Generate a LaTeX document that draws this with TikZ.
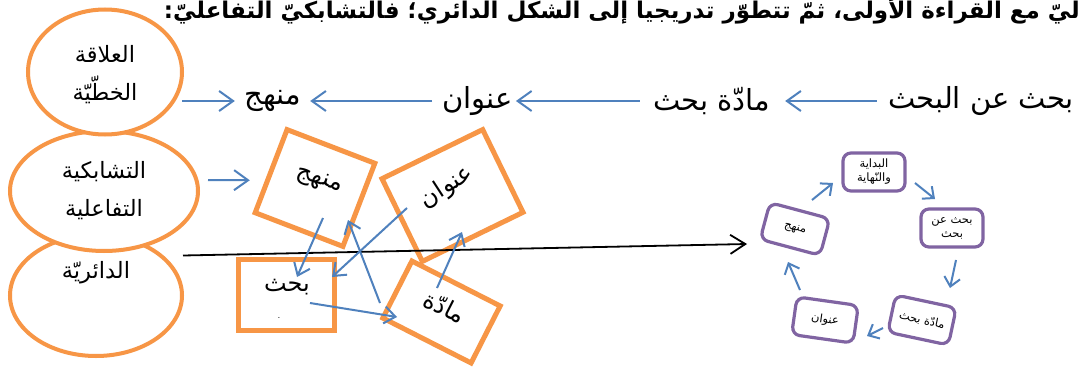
\documentclass[tikz,border=0pt]{standalone}
\usepackage{fontspec}
\usetikzlibrary{arrows.meta,shapes.geometric,calc}
\newfontfamily\arabicfont[Script=Arabic]{DejaVu Sans}
\TeXXeTstate=1
\newcommand{\ar}[1]{{\arabicfont\beginR #1\endR}}
\definecolor{orng}{HTML}{F79646}
\definecolor{blu}{HTML}{4F81BD}
\definecolor{purp}{HTML}{8064A2}
\tikzset{
  ell/.style={ellipse, draw=orng, line width=4pt, fill=white, inner sep=0pt, align=center,
    font=\fontsize{22.5}{38}\selectfont},
  obox/.style={rectangle, draw=orng, line width=5pt, inner sep=0pt},
  pbox/.style={rectangle, rounded corners=8pt, draw=purp, line width=3.2pt, fill=white,
    inner sep=0pt, minimum width=62pt, minimum height=38pt, align=center,
    font=\fontsize{11.5}{14}\selectfont},
  toplbl/.style={inner sep=0pt, font=\fontsize{29}{33}\selectfont},
  boxlbl/.style={inner sep=0pt, font=\fontsize{24}{28}\selectfont},
  elllbl/.style={inner sep=0pt, font=\fontsize{22.5}{26}\selectfont},
  barrow/.style={draw=blu, line width=2pt, -{Straight Barb[length=14pt,width=20pt]}},
  marrow/.style={draw=blu, line width=2pt, -{Straight Barb[length=11pt,width=17pt]}},
  sarrow/.style={draw=blu, line width=2pt, -{Straight Barb[length=9pt,width=16pt]}},
  karrow/.style={draw=black, line width=1.8pt, -{Straight Barb[length=15pt,width=19pt]}},
}
\begin{document}
\begin{tikzpicture}[x=1pt,y=-1pt]
\useasboundingbox (0,0) rectangle (1078,369);
\fill[white] (0,0) rectangle (1078,369);
\begin{scope}
\clip (0,0) rectangle (1078,369);
\node[anchor=base east, inner sep=0pt, font=\bfseries\fontsize{23}{27}\selectfont] (head) at (1080,19)
  {\ar{ليّ مع القراءة الأولى، ثمّ تتطوّر تدريجيا إلى الشكل الدائري؛ فالتشابكيّ التفاعليّ:}};
\end{scope}

% ellipses
\node[ell, minimum width=172pt, minimum height=121pt] (e3) at (96,295.5) {};
\node[ell, minimum width=188pt, minimum height=120pt] (e2) at (104,191) {\ar{التشابكية}\\\ar{التفاعلية}};
\node[ell, minimum width=154pt, minimum height=125pt] (e1) at (105,72) {};
\node[inner sep=0pt, align=center, font=\fontsize{22.5}{38}\selectfont] (t1) at (105,75) {\ar{العلاقة}\\\ar{الخطّيّة}};
\node[elllbl] (t3) at (96,273) {\ar{الدائريّة}};

% top row
\node[toplbl, minimum width=188pt] (bab) at (981,101) {\ar{بحث عن البحث}};
\node[toplbl, minimum width=113pt] (madda) at (711.5,101) {\ar{مادّة بحث}};
\node[toplbl, minimum width=65pt] (onwan) at (477.5,101) {\ar{عنوان}};
\node[toplbl, minimum width=60pt] (manhaj) at (273,101) {\ar{منهج}};

\draw[barrow] ([xshift=-10pt]bab.west) -- ([xshift=15pt]madda.east);
\draw[barrow] ([xshift=-13pt]madda.west) -- ([xshift=3pt]onwan.east);
\draw[barrow] ([xshift=-10pt]onwan.west) -- ([xshift=7pt]manhaj.east);
\draw[barrow] ($(e1)+(77,29)$) -- ([xshift=-8pt]manhaj.west);

% orange boxes
\node[obox, minimum width=94pt, minimum height=89pt, rotate=-21] (mbox) at (315,188) {};
\node[obox, minimum width=112pt, minimum height=92pt, rotate=26] (obx) at (452.5,195.5) {};
\node[obox, minimum width=96pt, minimum height=71pt] (bbox) at (286.5,295) {};
\node[obox, minimum width=99pt, minimum height=64pt, rotate=-27] (dbox) at (441.5,312) {};
\node[boxlbl, rotate=-18] (mboxt) at (319,181) {\ar{منهج}};
\node[boxlbl, rotate=33] (obxt) at (447,187) {\ar{عنوان}};
\node[boxlbl] (bboxt) at (287,287) {\ar{بحث}};
\node[inner sep=0pt, font=\fontsize{10}{12}\selectfont] (bdot) at (279,318) {.};
\node[boxlbl, rotate=-27] (dboxt) at (445,307) {\ar{مادّة}};

\draw[barrow] ($(e2.east)+(8,-11)$) -- ($(mbox.west)+(-19,10)$);

% cycle
\node[pbox] (c1) at (874,172) {\ar{البداية}\\\ar{والنّهاية}};
\node[pbox] (c2) at (952,228) {\ar{بحث عن}\\\ar{بحث}};
\node[pbox, rotate=-12] (c3) at (922,320) {\ar{مادّة بحث}};
\node[pbox, rotate=-8] (c4) at (825,320) {\ar{عنوان}};
\node[pbox, rotate=-15] (c5) at (795,229) {\ar{منهج}};

% black arrow
\draw[karrow] ($(e3)+(87,-40)$) -- ($(c5)+(-48,15)$);

% arrows among boxes
\draw[marrow] ($(mbox)+(8,30)$) -- ($(bbox)+(10.5,-18)$);
\draw[marrow] ($(obx)+(-45.5,12.5)$) -- ($(bbox)+(45.5,-18)$);
\draw[marrow] ($(dbox)+(-61.5,-9)$) -- ($(mbox)+(33,32)$);
\draw[marrow] ($(bbox)+(23.5,8)$) -- ($(dbox)+(-44.5,5)$);
\draw[marrow] ($(dbox)+(-4.5,-24)$) -- ($(obx)+(9.5,36.5)$);

\draw[sarrow] ($(c5)+(17,-29)$) -- ($(c1)+(-41,11)$);
\draw[sarrow] ($(c1)+(41,11)$) -- ($(c2)+(-17,-29)$);
\draw[sarrow] ($(c2)+(4,32)$) -- ($(c3)+(28,-32)$);
\draw[sarrow] ($(c3)+(-39,8)$) -- ($(c4)+(42,16)$);
\draw[sarrow] ($(c4)+(-25,-30)$) -- ($(c5)+(-7,33)$);
\end{tikzpicture}
\end{document}
